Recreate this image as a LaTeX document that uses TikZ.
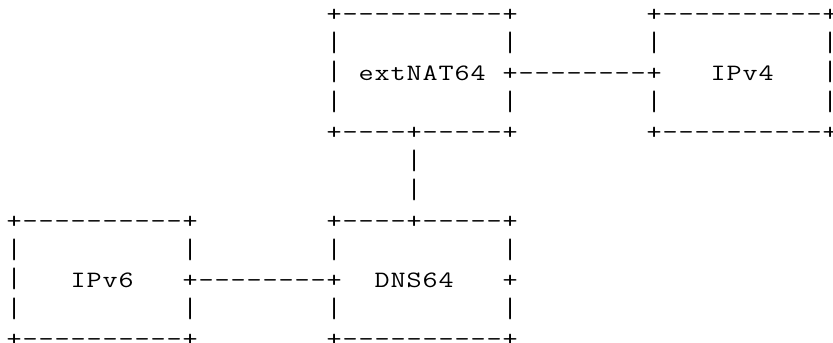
\documentclass[tikz,border=0pt]{standalone}
\usepackage{tikz}
\usetikzlibrary{positioning}
\makeatletter
\newcommand{\monostr}[1]{\@tfor\mono@ch:=#1\do{\makebox[0.48cm][c]{\scalebox{1.25}[1]{\mono@ch}}}}
\makeatother
\newcommand{\cell}[4]{\node[ascii] (#1) at (#2-0.5,#3) {\monostr{#4}};}
\newcommand{\side}[3]{\node[ascii] (#1) at (#2-0.5,#3) {\makebox[0.48cm][c]{\scalebox{1.25}[1.2]{|}}};}

\begin{document}
\begin{tikzpicture}[x=0.48cm, y=-0.8865cm,
    ascii/.style={anchor=base west, inner sep=0pt, yshift=-0.2cm,
      font=\ttfamily\fontsize{20}{24}\selectfont}]
    \useasboundingbox (-0.875,-0.508) rectangle (51.19,11.095);

    % extNAT64 box and the link to IPv4
    \cell{extTop}{20}{0}{+----------+}
    \cell{extName}{22}{2}{extNAT64}
    \cell{extLink}{31}{2}{+--------+}
    \cell{extBot}{20}{4}{+----+-----+}

    % IPv4 box
    \cell{vfourTop}{40}{0}{+----------+}
    \cell{vfourName}{44}{2}{IPv4}
    \cell{vfourBot}{40}{4}{+----------+}

    % IPv6 box and the link to DNS64
    \cell{vsixTop}{0}{7}{+----------+}
    \cell{vsixName}{4}{9}{IPv6}
    \cell{vsixLink}{11}{9}{+--------+}
    \cell{vsixBot}{0}{11}{+----------+}

    % DNS64 box
    \cell{dnsTop}{20}{7}{+----+-----+}
    \cell{dnsName}{23}{9}{DNS64}
    \cell{dnsEdge}{31}{9}{+}
    \cell{dnsBot}{20}{11}{+----------+}

    % box sides and the vertical link
    \foreach \c/\r in {20/1,31/1,40/1,51/1, 20/2,51/2, 20/3,31/3,40/3,51/3,
                       25/5,25/6,
                       0/8,11/8,20/8,31/8, 0/9, 0/10,11/10,20/10,31/10}
      {\side{bar-\c-\r}{\c}{\r}}
\end{tikzpicture}
\end{document}
